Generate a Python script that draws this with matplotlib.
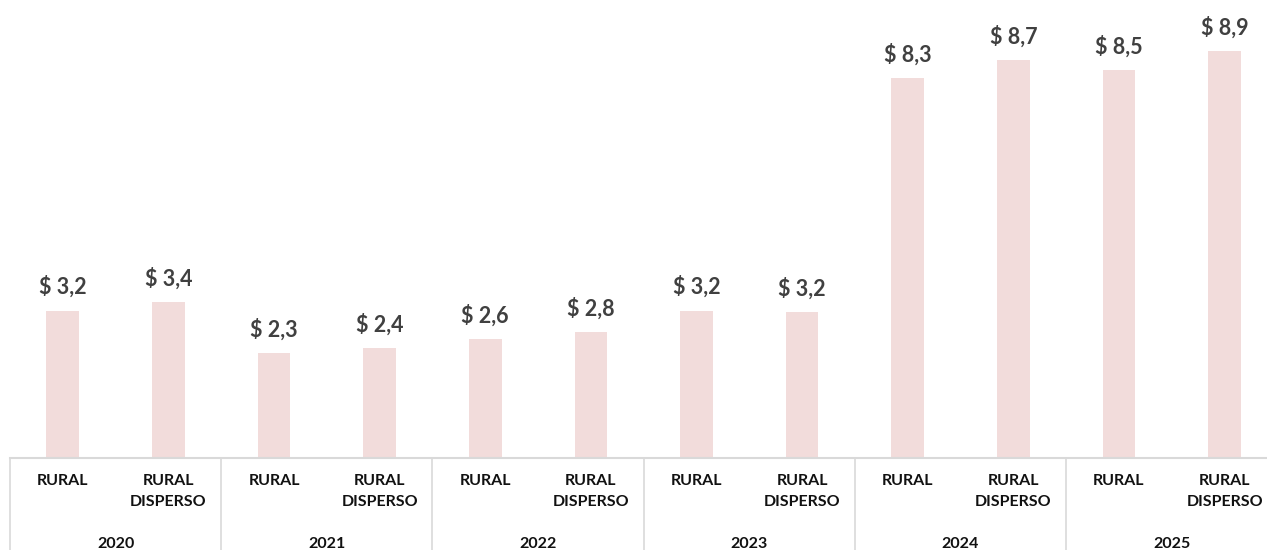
import numpy as np
import matplotlib.pyplot as plt
import matplotlib.transforms as mtransforms

years = ['2020', '2021', '2022', '2023', '2024', '2025']
categories = ['RURAL', 'RURAL\nDISPERSO']
values = [3.22, 3.40, 2.29, 2.40, 2.59, 2.75, 3.22, 3.18, 8.30, 8.69, 8.47, 8.89]
value_labels = ['$ 3,2', '$ 3,4', '$ 2,3', '$ 2,4', '$ 2,6', '$ 2,8',
                '$ 3,2', '$ 3,2', '$ 8,3', '$ 8,7', '$ 8,5', '$ 8,9']

plt.rcParams['font.family'] = ['Lato', 'DejaVu Sans']

W, H = 1267, 550
fig = plt.figure(figsize=(W / 100, H / 100), dpi=100)
ax = fig.add_axes([10 / W, 92 / H, 1267.4 / W, 458 / H])

x = np.arange(len(values))
ax.bar(x, values, width=0.31, color='#F2DCDB', zorder=2)
ax.set_xlim(-0.5, len(values) - 0.5)
ax.set_ylim(0, 10)

for xi, v, lab in zip(x, values, value_labels):
    ax.annotate(lab, (xi, v), xytext=(0, 9), textcoords='offset points',
                ha='center', va='bottom', fontsize=15.5, fontweight='bold',
                color='#404040')

for s in ax.spines.values():
    s.set_visible(False)
ax.set_xticks([])
ax.set_yticks([])

# two level category axis
trans = mtransforms.blended_transform_factory(ax.transData, ax.transAxes)
depth = -92 / 458
ax.plot([-0.5, len(values) - 0.5], [0, 0], color='#D9D9D9', lw=1.5,
        transform=trans, clip_on=False, zorder=3)
for b in np.arange(-0.5, len(values), 2):
    ax.plot([b, b], [0, depth], color='#D9D9D9', lw=1.2,
            transform=trans, clip_on=False)

for i, xi in enumerate(x):
    ax.text(xi, -16 / 458, categories[i % 2], transform=trans, ha='center',
            va='top', fontsize=11.5, fontweight='bold', color='#111111',
            linespacing=1.6)
for g, yr in enumerate(years):
    ax.text(2 * g + 0.5, -86 / 458, yr, transform=trans, ha='center',
            va='center', fontsize=11.5, fontweight='bold', color='#111111')

fig.savefig('out.png', dpi=100)
